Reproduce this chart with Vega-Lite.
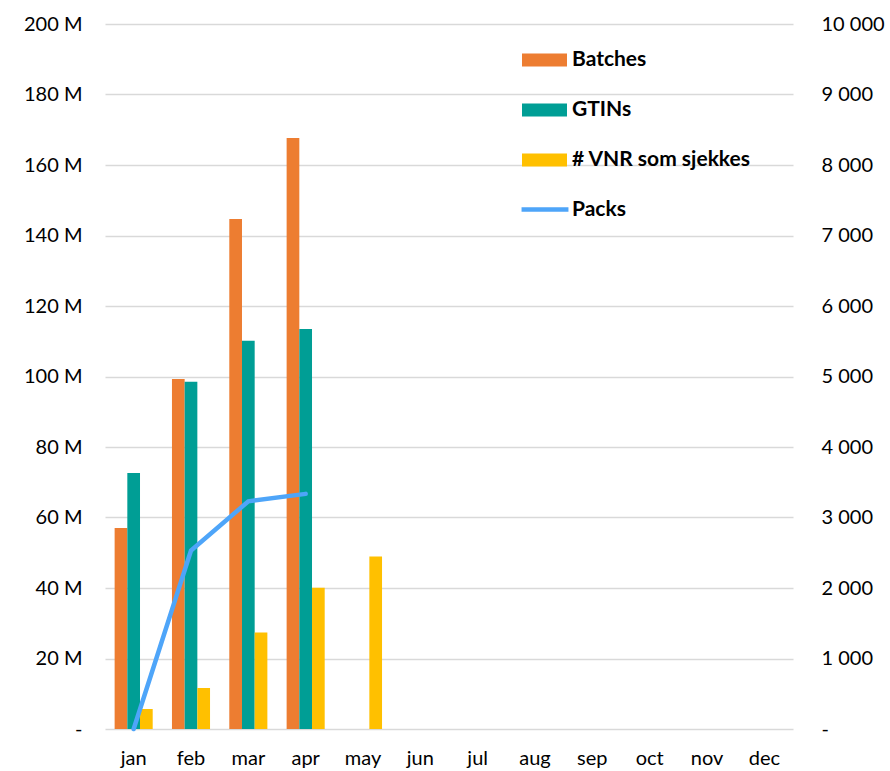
{
  "$schema": "https://vega.github.io/schema/vega-lite/v6.json",
  "autosize": {"type": "none"},
  "width": 688,
  "height": 705,
  "padding": {"left": 105, "top": 24, "right": 97, "bottom": 42},
  "background": "white",
  "config": {
    "view": {"stroke": null},
    "font": "Lato",
    "axis": {"labelFont": "Lato", "labelFontSize": 20, "labelColor": "#000000", "ticks": false, "domain": false, "title": null}
  },
  "datasets": {
    "bars": [
      {"month": "jan", "series": "Batches", "value": 2851},
      {"month": "jan", "series": "GTINs", "value": 3631},
      {"month": "jan", "series": "# VNR som sjekkes", "value": 284},
      {"month": "feb", "series": "Batches", "value": 4965},
      {"month": "feb", "series": "GTINs", "value": 4926},
      {"month": "feb", "series": "# VNR som sjekkes", "value": 582},
      {"month": "mar", "series": "Batches", "value": 7234},
      {"month": "mar", "series": "GTINs", "value": 5508},
      {"month": "mar", "series": "# VNR som sjekkes", "value": 1370},
      {"month": "apr", "series": "Batches", "value": 8383},
      {"month": "apr", "series": "GTINs", "value": 5674},
      {"month": "apr", "series": "# VNR som sjekkes", "value": 2004},
      {"month": "may", "series": "# VNR som sjekkes", "value": 2446}
    ],
    "packs": [
      {"month": "jan", "series": "Packs", "value": 0},
      {"month": "feb", "series": "Packs", "value": 50600000},
      {"month": "mar", "series": "Packs", "value": 64600000},
      {"month": "apr", "series": "Packs", "value": 66700000}
    ]
  },
  "encoding": {
    "x": {
      "field": "month",
      "type": "nominal",
      "sort": ["jan","feb","mar","apr","may","jun","jul","aug","sep","oct","nov","dec"],
      "scale": {"domain": ["jan","feb","mar","apr","may","jun","jul","aug","sep","oct","nov","dec"], "paddingInner": 0.336, "paddingOuter": 0.168},
      "axis": {"labelAngle": 0, "labelPadding": 19, "grid": false}
    }
  },
  "layer": [
    {
      "data": {"name": "bars"},
      "mark": {"type": "bar"},
      "encoding": {
        "xOffset": {"field": "series", "type": "nominal", "scale": {"domain": ["Batches", "GTINs", "# VNR som sjekkes"], "paddingInner": 0, "paddingOuter": 0}},
        "y": {
          "field": "value", "type": "quantitative",
          "scale": {"domain": [0, 10000], "nice": false},
          "axis": {"orient": "right", "values": [0,1000,2000,3000,4000,5000,6000,7000,8000,9000,10000], "grid": false, "labelPadding": 28, "labelAlign": "left",
                   "labelExpr": "datum.value == 0 ? '-' : replace(format(datum.value, ','), ',', ' ')"}
        },
        "color": {
          "field": "series", "type": "nominal",
          "scale": {"domain": ["Batches", "GTINs", "# VNR som sjekkes"], "range": ["#ED7D31", "#009E95", "#FFC000"]},
          "legend": {
            "orient": "none", "legendX": 417, "legendY": 13.5, "title": null, "padding": 0,
            "symbolType": "M-1,-0.289H1V0.289H-1Z", "symbolSize": 2025, "symbolStrokeWidth": 0,
            "labelFont": "Lato", "labelFontSize": 21, "labelFontWeight": "bold", "labelColor": "#000000",
            "labelOffset": 5, "rowPadding": 17, "labelLimit": 400
          }
        }
      }
    },
    {
      "data": {"name": "packs"},
      "mark": {"type": "line", "strokeWidth": 4.5, "strokeCap": "round"},
      "encoding": {
        "y": {
          "field": "value", "type": "quantitative",
          "scale": {"domain": [0, 200000000], "nice": false},
          "axis": {"orient": "left", "values": [0,20000000,40000000,60000000,80000000,100000000,120000000,140000000,160000000,180000000,200000000],
                   "grid": true, "gridColor": "#D9D9D9", "gridWidth": 1.5, "labelPadding": 23,
                   "labelExpr": "datum.value == 0 ? '-' : (datum.value / 1000000) + ' M'"}
        },
        "stroke": {
          "field": "series", "type": "nominal",
          "scale": {"domain": ["Packs"], "range": ["#4EA5F9"]},
          "legend": {
            "orient": "none", "legendX": 414, "legendY": 159.5, "title": null, "padding": 0,
            "symbolType": "stroke", "symbolSize": 2200, "symbolStrokeWidth": 4.5,
            "labelFont": "Lato", "labelFontSize": 21, "labelFontWeight": "bold", "labelColor": "#000000",
            "labelOffset": 1, "labelLimit": 400
          }
        }
      }
    }
  ],
  "resolve": {"scale": {"y": "independent", "color": "independent"}}
}
